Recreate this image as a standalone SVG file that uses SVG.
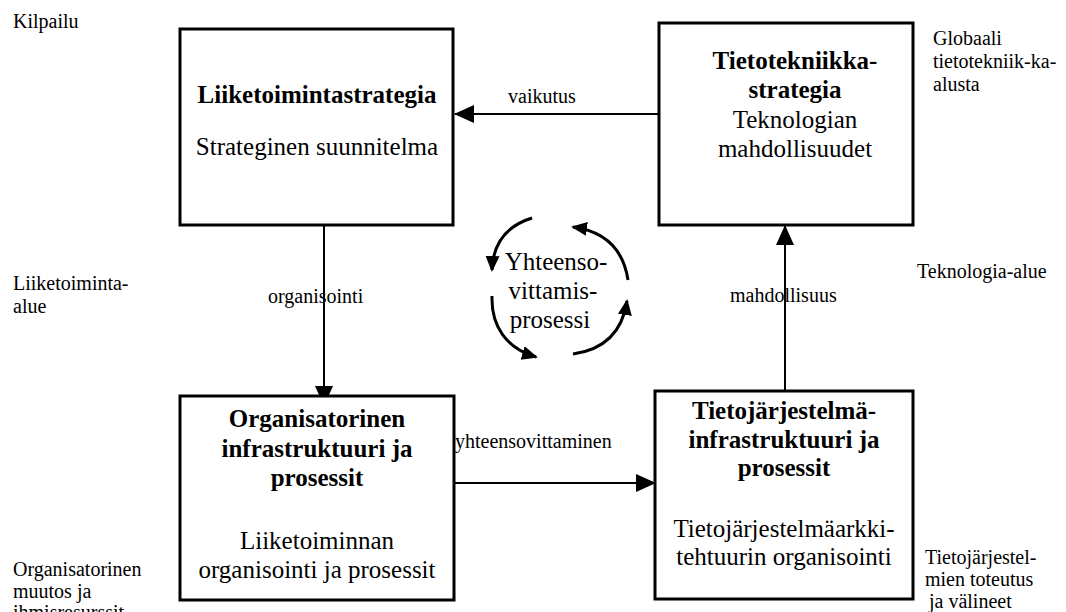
<svg xmlns="http://www.w3.org/2000/svg" width="1066" height="612" viewBox="0 0 1066 612">
  <defs>
    <style>
      text { font-family: "Liberation Serif", "Times New Roman", serif; fill: #000; }
      .box { fill: #fff; stroke: #000; stroke-width: 3; }
      .title { font-size: 25px; font-weight: bold; text-anchor: middle; }
      .body { font-size: 25px; text-anchor: middle; }
      .side { font-size: 20px; }
      .lbl { font-size: 20px; }
      .conn { stroke: #000; stroke-width: 2; fill: none; }
      .cyc { stroke: #000; stroke-width: 3; fill: none; }
      .cycText { font-size: 25px; text-anchor: middle; }
    </style>
    <marker id="head" viewBox="0 0 20 20" refX="19" refY="10" markerWidth="20" markerHeight="20" markerUnits="userSpaceOnUse" orient="auto">
      <path d="M0,1 L20,10 L0,19 Z" fill="#000"/>
    </marker>
    <marker id="cycHead" viewBox="0 0 16 16" refX="14" refY="8" markerWidth="16" markerHeight="16" markerUnits="userSpaceOnUse" orient="auto">
      <path d="M0,1 L16,8 L0,15 Z" fill="#000"/>
    </marker>
  </defs>

  <rect width="1066" height="612" fill="#fff"/>

  <!-- surrounding context labels -->
  <g id="context">
    <text class="side" x="13" y="28">Kilpailu</text>
    <text class="side" x="13" y="290">Liiketoiminta-</text>
    <text class="side" x="13" y="313">alue</text>
    <text class="side" x="13" y="576">Organisatorinen</text>
    <text class="side" x="13" y="598">muutos ja</text>
    <text class="side" x="13" y="619">ihmisresurssit</text>
    <text class="side" x="933" y="45">Globaali</text>
    <text class="side" x="933" y="68">tietotekniik-ka-</text>
    <text class="side" x="933" y="91">alusta</text>
    <text class="side" x="917" y="278">Teknologia-alue</text>
    <text class="side" x="925" y="564">Tietojärjestel-</text>
    <text class="side" x="925" y="586">mien toteutus</text>
    <text class="side" x="929" y="608">ja välineet</text>
  </g>

  <!-- connectors between the four domains -->
  <g id="connectors">
    <line class="conn" x1="659" y1="114" x2="455" y2="114" marker-end="url(#head)"/>
    <line class="conn" x1="324" y1="225" x2="324" y2="405" marker-end="url(#head)"/>
    <line class="conn" x1="785" y1="391" x2="785" y2="226" marker-end="url(#head)"/>
    <line class="conn" x1="454" y1="483" x2="655" y2="483" marker-end="url(#head)"/>
    <text class="lbl" x="508" y="103">vaikutus</text>
    <text class="lbl" x="268" y="303">organisointi</text>
    <text class="lbl" x="730" y="302">mahdollisuus</text>
    <text class="lbl" x="455" y="448">yhteensovittaminen</text>
  </g>

  <!-- alignment cycle in the middle -->
  <g id="cycle">
    <path class="cyc" d="M532,218 C506,226 493,244 492,270" marker-end="url(#cycHead)"/>
    <path class="cyc" d="M492,296 C491,326 506,348 536,357" marker-end="url(#cycHead)"/>
    <path class="cyc" d="M573,354 C602,350 622,334 627,301" marker-end="url(#cycHead)"/>
    <path class="cyc" d="M628,280 C624,254 610,232 573,227" marker-end="url(#cycHead)"/>
    <text class="cycText" x="556" y="270">Yhteenso-</text>
    <text class="cycText" x="553" y="299">vittamis-</text>
    <text class="cycText" x="550" y="328">prosessi</text>
  </g>

  <g id="liiketoimintastrategia">
    <rect class="box" x="180" y="29" width="273" height="196"/>
    <text class="title" x="317" y="103">Liiketoimintastrategia</text>
    <text class="body" x="317" y="155">Strateginen suunnitelma</text>
  </g>

  <g id="tietotekniikkastrategia">
    <rect class="box" x="659" y="23" width="254" height="202"/>
    <text class="title" x="795" y="69">Tietotekniikka-</text>
    <text class="title" x="795" y="98">strategia</text>
    <text class="body" x="795" y="128">Teknologian</text>
    <text class="body" x="795" y="157">mahdollisuudet</text>
  </g>

  <g id="organisatorinen">
    <rect class="box" x="180" y="396" width="274" height="204"/>
    <text class="title" x="317" y="427">Organisatorinen</text>
    <text class="title" x="317" y="457">infrastruktuuri ja</text>
    <text class="title" x="317" y="486">prosessit</text>
    <text class="body" x="317" y="549">Liiketoiminnan</text>
    <text class="body" x="317" y="578">organisointi ja prosessit</text>
  </g>

  <g id="tietojarjestelma">
    <rect class="box" x="655" y="391" width="258" height="208"/>
    <text class="title" x="784" y="419">Tietojärjestelmä-</text>
    <text class="title" x="784" y="448">infrastruktuuri ja</text>
    <text class="title" x="784" y="476">prosessit</text>
    <text class="body" x="784" y="537">Tietojärjestelmäarkki-</text>
    <text class="body" x="784" y="565">tehtuurin organisointi</text>
  </g>
</svg>
